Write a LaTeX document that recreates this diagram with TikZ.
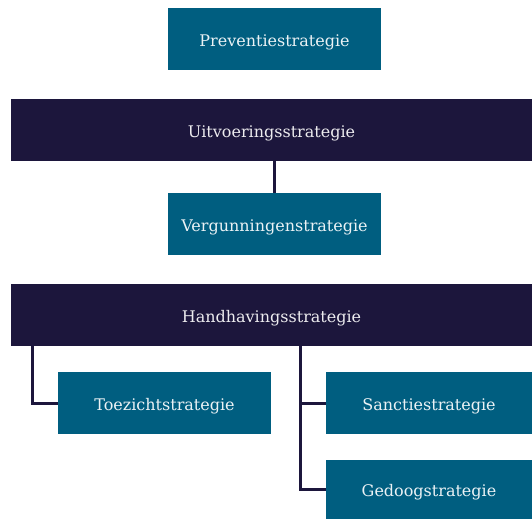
\documentclass[tikz,border=0pt]{standalone}
\usepackage{fontspec}
\setmainfont{DejaVu Serif}
\definecolor{stratteal}{RGB}{0,94,128}
\definecolor{stratnavy}{RGB}{28,22,60}
\tikzset{
    tealbox/.style={fill=stratteal, text=white!92!stratteal, minimum width=213pt, minimum height=62pt, inner sep=0pt, text height=14pt, text depth=0pt, font=\fontsize{16}{19}\selectfont},
    navybox/.style={fill=stratnavy, text=white!92!stratnavy, minimum width=521pt, minimum height=62pt, inner sep=0pt, text height=14pt, text depth=0pt, font=\fontsize{16}{19}\selectfont},
    link/.style={draw=stratnavy, line width=3pt}
}
\begin{document}
\begin{tikzpicture}[x=1pt,y=-1pt]
                \useasboundingbox (0,0) rectangle (532,519);
                \node[tealbox] (prev) at (274.5,39) {Preventiestrategie};
                \node[navybox] (uitv) at (271.5,130) {Uitvoeringsstrategie};
                \node[tealbox] (verg) at (274.5,224) {Vergunningenstrategie};
                \node[navybox] (handh) at (271.5,315) {Handhavingsstrategie};
                \node[tealbox] (toez) at (164.5,403) {Toezichtstrategie};
                \node[tealbox, minimum width=206pt] (sanc) at (429,403) {Sanctiestrategie};
                \node[tealbox, minimum width=206pt, minimum height=59pt] (gedo) at (429,489.5) {Gedoogstrategie};

                \draw[link] (verg.north |- uitv.south) -- (verg.north);
                \draw[link] ([xshift=22pt]handh.south west) |- (toez.west);
                \draw[link] ([xshift=290pt]handh.south west) |- (sanc.west);
                \draw[link] ([xshift=290pt]handh.south west) |- (gedo.west);
            \end{tikzpicture}
\end{document}
